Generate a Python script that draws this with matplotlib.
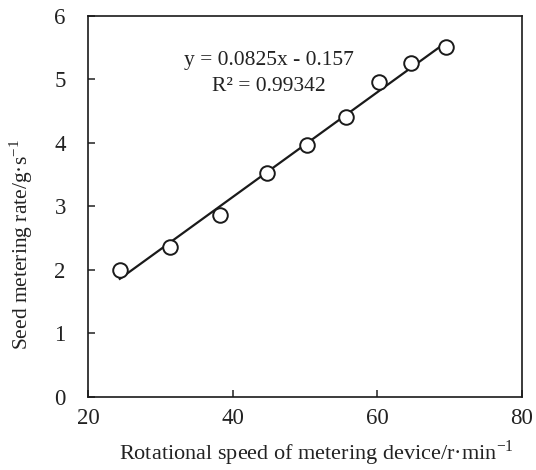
import numpy as np
import matplotlib
matplotlib.use("Agg")
import matplotlib.pyplot as plt

plt.rcParams['font.family'] = ['Liberation Serif', 'DejaVu Serif']
plt.rcParams['mathtext.fontset'] = 'custom'
plt.rcParams['mathtext.rm'] = 'Liberation Serif'

# measured points
speed = [24.4, 31.4, 38.3, 44.7, 50.3, 55.7, 60.3, 64.7, 69.5]
rate = [1.99, 2.35, 2.86, 3.53, 3.96, 4.40, 4.96, 5.26, 5.50]

# linear trendline
slope = 0.0825
intercept = -0.157
eq_text = "y = 0.0825x - 0.157"
r2_text = "R² = 0.99342"

fig = plt.figure(figsize=(5.36, 4.70), dpi=100)
ax = fig.add_axes([88/536, 1 - 396.7/470, 433.7/536, 381/470])

xs = np.array([min(speed), max(speed)])
ax.plot(xs, slope * xs + intercept, color='#1a1a1a', lw=1.6)
ax.plot(speed, rate, 'o', ms=10.5, mfc='white', mec='#1a1a1a', mew=1.4)

ax.text(45.0, 5.29, eq_text, ha='center', va='center', fontsize=15.5, color='#222222')
ax.text(45.0, 4.88, r2_text, ha='center', va='center', fontsize=15.5, color='#222222')

ax.set_xlim(20, 80)
ax.set_ylim(0, 6)
ax.set_xticks([20, 40, 60, 80])
ax.set_yticks(range(7))
ax.tick_params(direction='in', length=5, width=1.1, labelsize=16.5, colors='#222222')
ax.tick_params(axis='x', pad=8)
ax.tick_params(axis='y', pad=16)
for s in ax.spines.values():
    s.set_linewidth(1.2)
    s.set_color('#1a1a1a')

ax.set_xlabel(r"Rotational speed of metering device/r·min$^{\mathregular{-1}}$", fontsize=16, color='#222222')
ax.set_ylabel(r"Seed metering rate/g·s$^{\mathregular{-1}}$", fontsize=15.5, color='#222222')
ax.xaxis.set_label_coords(0.527, -0.11)
ax.yaxis.set_label_coords(-0.122, 0.398)

fig.savefig("out.png", dpi=100)
